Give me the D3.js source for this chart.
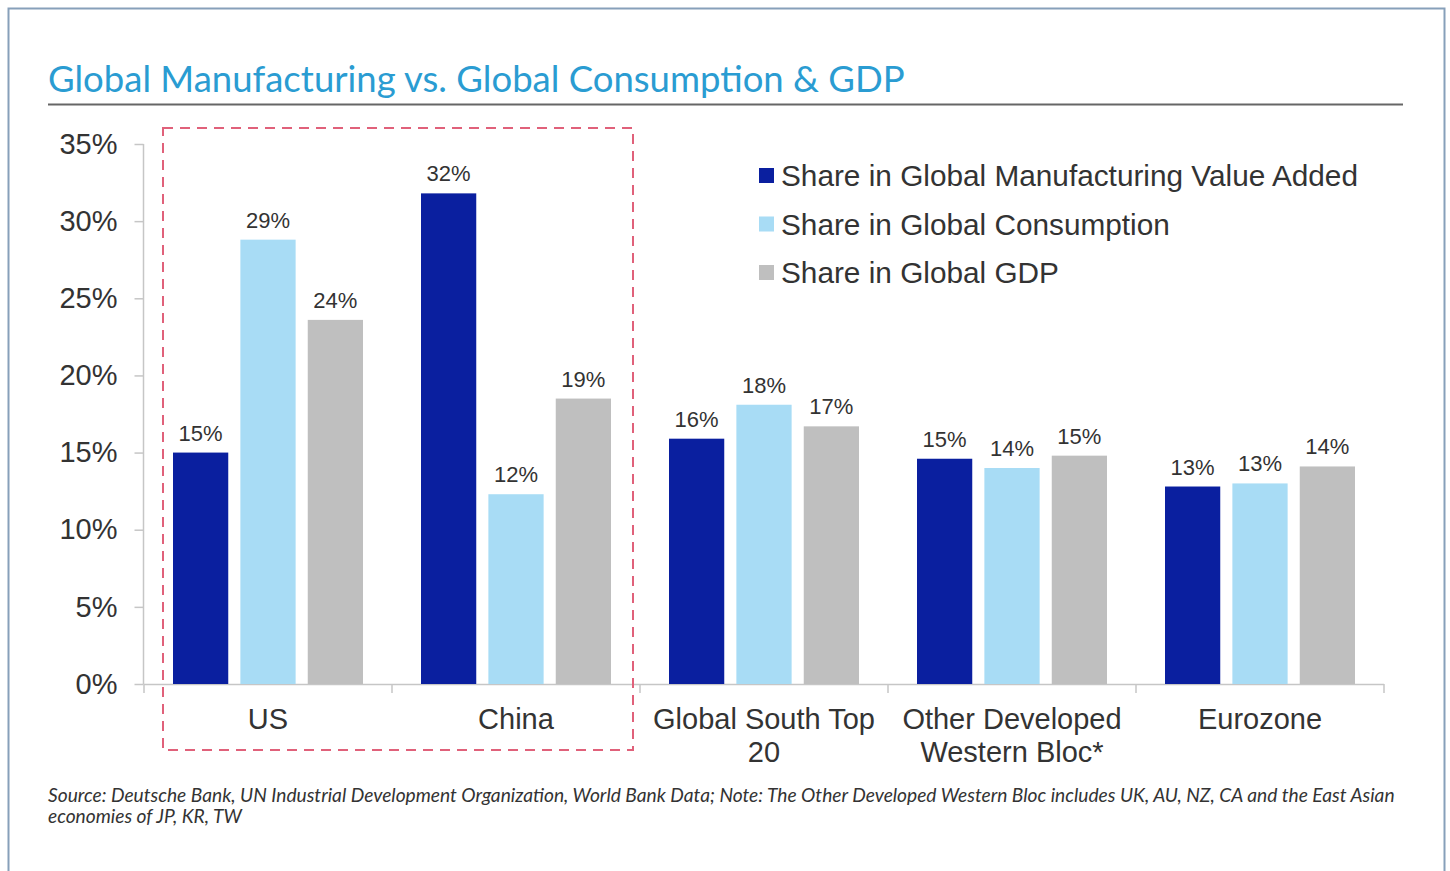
<!DOCTYPE html>
<html>
<head>
<meta charset="utf-8">
<script src="https://cdn.jsdelivr.net/npm/d3@7"></script>
<style>
  html, body { margin: 0; padding: 0; background: #fff; }
  svg { display: block; }
</style>
</head>
<body>
<svg id="chart" width="1450" height="871"></svg>
<script>
// Regions shown along the x axis ("\n" marks a line break in the label)
const categories = ["US", "China", "Global South Top\n20", "Other Developed\nWestern Bloc*", "Eurozone"];

// Series names
const seriesNames = [
  "Share in Global Manufacturing Value Added",
  "Share in Global Consumption",
  "Share in Global GDP"
];

// Shares in percent, one value per region
const manufacturing = [15.0, 31.8, 15.9, 14.6, 12.8];
const consumption   = [28.8, 12.3, 18.1, 14.0, 13.0];
const gdp           = [23.6, 18.5, 16.7, 14.8, 14.1];

// Y axis ticks (percent)
const yTicks = [0, 5, 10, 15, 20, 25, 30, 35];

const seriesColors = ["#0a1f9f", "#a8dcf5", "#bfbfbf"];
const seriesValues = [manufacturing, consumption, gdp];

const titleText = "Global Manufacturing vs. Global Consumption & GDP";
const noteLines = [
  "Source: Deutsche Bank, UN Industrial Development Organization, World Bank Data; Note: The Other Developed Western Bloc includes UK, AU, NZ, CA and the East Asian",
  "economies of JP, KR, TW"
];

const svg = d3.select("#chart");
const textColor = "#333333";
const sansFont = "'Liberation Sans', Arial, sans-serif";

// Outer frame
svg.append("rect")
  .attr("x", 8.5).attr("y", 8.5)
  .attr("width", 1436).attr("height", 900)
  .attr("fill", "none")
  .attr("stroke", "#87a0ba")
  .attr("stroke-width", 2);

// Fit a text element's font size so that it spans the given width
function fitWidth(sel, width) {
  const node = sel.node();
  const fs = parseFloat(sel.attr("font-size"));
  const w = node.getComputedTextLength();
  if (w > 0) sel.attr("font-size", (fs * width / w).toFixed(2));
  return parseFloat(sel.attr("font-size"));
}

// Title and rule beneath it
const title = svg.append("text")
  .attr("x", 48).attr("y", 92)
  .attr("font-family", "Lato, 'Noto Sans', sans-serif")
  .attr("font-size", 34)
  .attr("fill", "#2a9cd2")
  .text(titleText);
fitWidth(title, 857);

svg.append("line")
  .attr("x1", 48).attr("x2", 1403)
  .attr("y1", 104.5).attr("y2", 104.5)
  .attr("stroke", "#666")
  .attr("stroke-width", 2);

// Scales
const x0 = d3.scaleBand()
  .domain(categories)
  .range([144, 1384])
  .paddingInner(0).paddingOuter(0);

const x1 = d3.scaleBand()
  .domain(d3.range(seriesNames.length))
  .range([29, x0.bandwidth() - 29])
  .paddingInner(0.18);

const y = d3.scaleLinear().domain([0, 35]).range([684, 144]);

// Y axis
const yAxis = svg.append("g")
  .attr("transform", "translate(143.5,0)")
  .call(d3.axisLeft(y).tickValues(yTicks).tickSize(9).tickPadding(17)
    .tickFormat(d => d + "%"));
yAxis.select(".domain").attr("stroke", "#c6c6c6").attr("stroke-width", 1.5)
  .attr("d", `M0,${y(35)}V${y(0)}`);
yAxis.selectAll(".tick line").attr("stroke", "#c6c6c6").attr("stroke-width", 1.5);
yAxis.selectAll(".tick text")
  .attr("font-family", sansFont)
  .attr("font-size", 29)
  .attr("fill", textColor);

// X axis: baseline with ticks at category boundaries
const xAxis = svg.append("g");
xAxis.append("line")
  .attr("x1", x0.range()[0]).attr("x2", x0.range()[1])
  .attr("y1", y(0) + 0.5).attr("y2", y(0) + 0.5)
  .attr("stroke", "#c6c6c6").attr("stroke-width", 1.5);
const boundaries = categories.map(c => x0(c)).concat([x0.range()[1]]);
xAxis.selectAll("line.bound")
  .data(boundaries)
  .join("line")
  .attr("class", "bound")
  .attr("x1", d => d).attr("x2", d => d)
  .attr("y1", y(0)).attr("y2", y(0) + 9)
  .attr("stroke", "#c6c6c6").attr("stroke-width", 1.5);

// Category labels
xAxis.selectAll("text.cat")
  .data(categories)
  .join("text")
  .attr("class", "cat")
  .attr("text-anchor", "middle")
  .attr("font-family", sansFont)
  .attr("font-size", 29)
  .attr("fill", textColor)
  .each(function (d) {
    const t = d3.select(this);
    d.split("\n").forEach((line, i) => {
      t.append("tspan")
        .attr("x", x0(d) + x0.bandwidth() / 2)
        .attr("y", 729 + i * 33)
        .text(line);
    });
  });

// Bars
const barData = [];
categories.forEach((c, ci) => {
  seriesValues.forEach((vals, si) => {
    barData.push({ cat: c, s: si, v: vals[ci] });
  });
});

const bars = svg.append("g");
bars.selectAll("rect")
  .data(barData)
  .join("rect")
  .attr("x", d => x0(d.cat) + x1(d.s))
  .attr("y", d => y(d.v))
  .attr("width", x1.bandwidth())
  .attr("height", d => y(0) - y(d.v))
  .attr("fill", d => seriesColors[d.s]);

// Value labels
bars.selectAll("text")
  .data(barData)
  .join("text")
  .attr("x", d => x0(d.cat) + x1(d.s) + x1.bandwidth() / 2)
  .attr("y", d => y(d.v) - 12)
  .attr("text-anchor", "middle")
  .attr("font-family", sansFont)
  .attr("font-size", 22)
  .attr("fill", textColor)
  .text(d => Math.round(d.v) + "%");

// Dashed highlight around US and China
svg.append("rect")
  .attr("x", 163).attr("y", 128)
  .attr("width", 470).attr("height", 622)
  .attr("fill", "none")
  .attr("stroke", "#e0617a")
  .attr("stroke-width", 2)
  .attr("stroke-dasharray", "10,7");

// Legend
const legend = svg.append("g");
const legendRows = legend.selectAll("g")
  .data(seriesNames)
  .join("g")
  .attr("transform", (d, i) => `translate(759,${176 + i * 48.5})`);
legendRows.append("rect")
  .attr("x", 0).attr("y", -8)
  .attr("width", 15).attr("height", 15)
  .attr("fill", (d, i) => seriesColors[i]);
const legendTexts = legendRows.append("text")
  .attr("x", 22).attr("y", 10)
  .attr("font-family", sansFont)
  .attr("font-size", 29)
  .attr("fill", textColor)
  .text(d => d);
const legendSize = fitWidth(d3.select(legendTexts.nodes()[0]), 577);
legendTexts.attr("font-size", legendSize);

// Source note
const note1 = svg.append("text")
  .attr("x", 48).attr("y", 802)
  .attr("font-family", "Lato, 'Noto Sans', sans-serif")
  .attr("font-style", "italic")
  .attr("font-size", 17)
  .attr("fill", textColor)
  .text(noteLines[0]);
const noteSize = fitWidth(note1, 1347);
svg.append("text")
  .attr("x", 48).attr("y", 823)
  .attr("font-family", "Lato, 'Noto Sans', sans-serif")
  .attr("font-style", "italic")
  .attr("font-size", noteSize)
  .attr("fill", textColor)
  .text(noteLines[1]);
</script>
</body>
</html>
